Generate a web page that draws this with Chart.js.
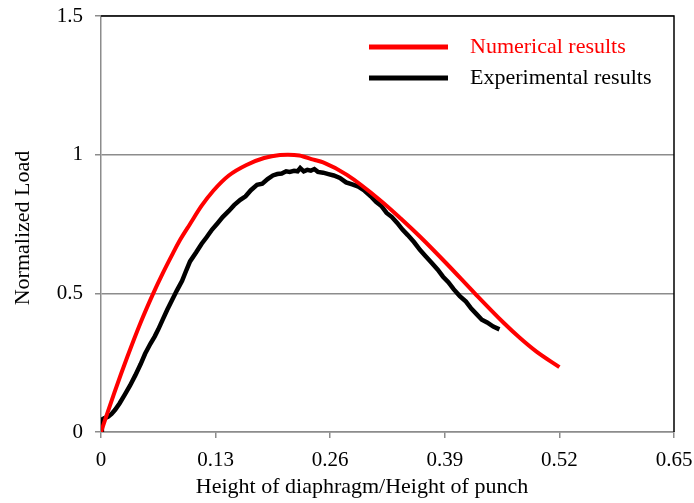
<!DOCTYPE html>
<html>
<head>
<meta charset="utf-8">
<script src="https://cdn.jsdelivr.net/npm/chart.js@4"></script>
<style>
  html, body { margin: 0; padding: 0; background: #fff; }
  #wrap { width: 694px; height: 503px; }
</style>
</head>
<body>
<div id="wrap"><canvas id="loadChart" width="694" height="503"></canvas></div>
<script>
// numerical results (red)
var numX = [0, 0.015, 0.03, 0.045, 0.0593, 0.07, 0.0817, 0.0896, 0.101, 0.114, 0.1274, 0.145, 0.165, 0.185, 0.203, 0.212, 0.225, 0.241, 0.252, 0.279, 0.317, 0.340, 0.362, 0.393, 0.424, 0.4564, 0.475, 0.494, 0.520];
var numY = [0, 0.14, 0.272, 0.395, 0.5, 0.572, 0.645, 0.692, 0.75, 0.815, 0.87, 0.925, 0.963, 0.988, 0.999, 1.0, 0.997, 0.982, 0.972, 0.927, 0.835, 0.77, 0.704, 0.604, 0.5, 0.395, 0.34, 0.29, 0.234];

// experimental results (black)
var expX = [0, 0.001, 0.004, 0.008, 0.012, 0.016, 0.021, 0.027, 0.033, 0.039, 0.045, 0.050, 0.056, 0.061, 0.065, 0.070, 0.075, 0.0805, 0.086, 0.092, 0.097, 0.101, 0.108, 0.114, 0.120, 0.126, 0.132, 0.138, 0.145, 0.151, 0.158, 0.164, 0.170, 0.177, 0.183, 0.189, 0.195, 0.200, 0.205, 0.210, 0.214, 0.219, 0.223, 0.226, 0.230, 0.234, 0.238, 0.242, 0.246, 0.252, 0.258, 0.264, 0.271, 0.278, 0.285, 0.292, 0.299, 0.306, 0.312, 0.318, 0.324, 0.330, 0.336, 0.342, 0.348, 0.355, 0.362, 0.368, 0.375, 0.382, 0.388, 0.394, 0.400, 0.407, 0.414, 0.420, 0.426, 0.432, 0.438, 0.445, 0.452];
var expY = [0, 0.045, 0.05, 0.055, 0.065, 0.08, 0.103, 0.135, 0.168, 0.205, 0.245, 0.282, 0.318, 0.345, 0.37, 0.405, 0.44, 0.475, 0.51, 0.545, 0.585, 0.615, 0.648, 0.678, 0.703, 0.73, 0.752, 0.775, 0.797, 0.818, 0.837, 0.85, 0.872, 0.891, 0.895, 0.912, 0.925, 0.93, 0.932, 0.94, 0.938, 0.942, 0.94, 0.952, 0.94, 0.945, 0.942, 0.948, 0.938, 0.935, 0.93, 0.925, 0.916, 0.9, 0.893, 0.885, 0.87, 0.85, 0.83, 0.815, 0.79, 0.775, 0.754, 0.73, 0.71, 0.685, 0.656, 0.635, 0.61, 0.585, 0.56, 0.54, 0.515, 0.49, 0.47, 0.445, 0.425, 0.405, 0.395, 0.38, 0.37];

var xTickLabels = ['0', '0.13', '0.26', '0.39', '0.52', '0.65'];
var yTickLabels = ['0', '0.5', '1', '1.5'];
var seriesNames = ['Numerical results', 'Experimental results'];
var seriesColors = ['#ff0000', '#000000'];

var serif = "'Liberation Serif', 'Times New Roman', serif";

function toPoints(xs, ys) {
    var pts = [];
    for (var i = 0; i < xs.length; i++) pts.push({x: xs[i], y: ys[i]});
    return pts;
}

// frame (black top/right), legend and axis titles
var extras = {
    id: 'extras',
    afterDraw: function(chart) {
        var ctx = chart.ctx;
        var a = chart.chartArea;
        ctx.save();
        ctx.strokeStyle = '#000';
        ctx.lineWidth = 1.5;
        ctx.beginPath();
        ctx.moveTo(a.left, a.top);
        ctx.lineTo(a.right, a.top);
        ctx.lineTo(a.right, a.bottom);
        ctx.stroke();

        // legend
        ctx.font = '22px ' + serif;
        ctx.textBaseline = 'middle';
        ctx.textAlign = 'left';
        var rows = [47, 78];
        for (var i = 0; i < seriesNames.length; i++) {
            ctx.strokeStyle = seriesColors[i];
            ctx.lineWidth = 5;
            ctx.beginPath();
            ctx.moveTo(369, rows[i]);
            ctx.lineTo(448, rows[i]);
            ctx.stroke();
            ctx.fillStyle = seriesColors[i];
            ctx.fillText(seriesNames[i], 470, rows[i]);
        }

        // axis titles
        ctx.fillStyle = '#000';
        ctx.textAlign = 'center';
        ctx.fillText('Height of diaphragm/Height of punch', 362, 487);
        ctx.translate(23, 228);
        ctx.rotate(-Math.PI / 2);
        ctx.fillText('Normalized Load', 0, 0);
        ctx.restore();
    }
};

var ctx = document.getElementById('loadChart').getContext('2d');
var myChart = new Chart(ctx, {
    type: 'scatter',
    data: {
        datasets: [{
            label: seriesNames[0],
            data: toPoints(numX, numY),
            showLine: true,
            borderColor: seriesColors[0],
            borderWidth: 4,
            pointRadius: 0,
            cubicInterpolationMode: 'monotone'
        }, {
            label: seriesNames[1],
            data: toPoints(expX, expY),
            showLine: true,
            borderColor: seriesColors[1],
            borderWidth: 4.5,
            pointRadius: 0,
            tension: 0
        }]
    },
    options: {
        responsive: false,
        animation: false,
        layout: { padding: { top: 16, right: 20, left: 0, bottom: 0 } },
        plugins: {
            legend: { display: false },
            tooltip: { enabled: false }
        },
        scales: {
            x: {
                type: 'linear',
                min: 0,
                max: 0.65,
                afterFit: function(scale) {
                    scale.height = 71;
                    scale.paddingLeft = 0;
                    scale.paddingRight = 0;
                },
                afterBuildTicks: function(scale) {
                    scale.ticks = xTickLabels.map(function(t) { return {value: parseFloat(t)}; });
                },
                ticks: {
                    callback: function(v, i) { return xTickLabels[i]; },
                    color: '#000',
                    padding: 10,
                    maxRotation: 0,
                    font: { family: serif, size: 21 }
                },
                grid: {
                    drawOnChartArea: false,
                    color: '#8c8c8c',
                    tickLength: 6,
                    lineWidth: 1.5
                },
                border: { color: '#8c8c8c', width: 1.5 }
            },
            y: {
                min: 0,
                max: 1.5,
                afterFit: function(scale) {
                    scale.width = 101;
                    scale.paddingTop = 0;
                    scale.paddingBottom = 0;
                },
                afterBuildTicks: function(scale) {
                    scale.ticks = yTickLabels.map(function(t) { return {value: parseFloat(t)}; });
                },
                ticks: {
                    callback: function(v, i) { return yTickLabels[i]; },
                    color: '#000',
                    padding: 12,
                    font: { family: serif, size: 21 }
                },
                grid: {
                    color: '#8c8c8c',
                    tickLength: 6,
                    lineWidth: 1.5
                },
                border: { color: '#8c8c8c', width: 1.5 }
            }
        }
    },
    plugins: [extras]
});
</script>
</body>
</html>
